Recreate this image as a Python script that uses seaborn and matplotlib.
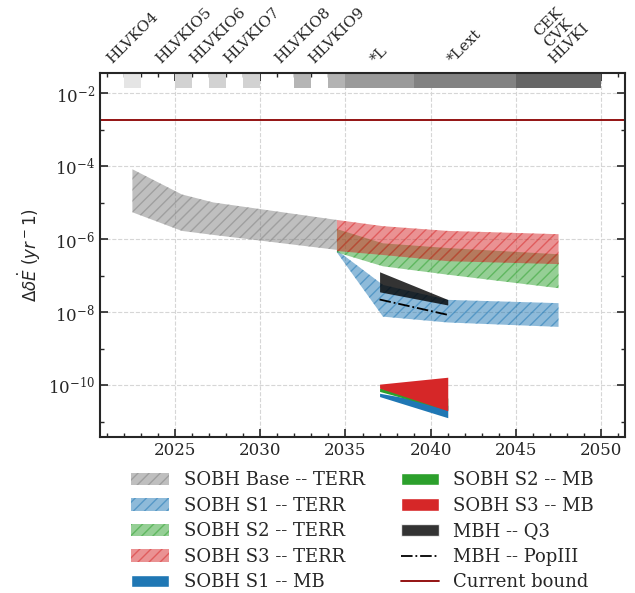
import numpy as np
import matplotlib
matplotlib.use("Agg")
import matplotlib.pyplot as plt
import matplotlib.ticker as mticker
from matplotlib.patches import Patch
from matplotlib.lines import Line2D
import seaborn as sns

sns.set_style("ticks")
plt.rcParams["font.family"] = "serif"
plt.rcParams["font.serif"] = ["DejaVu Serif"]
plt.rcParams["font.size"] = 12
plt.rcParams["hatch.linewidth"] = 1.0

# ---- data (log10 of the rate drift) ----
# detector network runs (top strip)
run_names = ["HLVKO4", "HLVKIO5", "HLVKIO6", "HLVKIO7", "HLVKIO8", "HLVKIO9",
             "*L", "*Lext", "CEK\nCVK\nHLVKI"]
run_start = [2022, 2025, 2027, 2029, 2032, 2034, 2035, 2039, 2045]
run_end = [2023, 2026, 2028, 2030, 2033, 2035, 2039, 2045, 2050]
run_grey = ["#e5e5e5", "#d2d2d2", "#d2d2d2", "#d2d2d2", "#b5b5b5", "#b3b3b3",
            "#9a9a9a", "#828282", "#666666"]

# SOBH baseline, terrestrial
base_years = [2022.5, 2025.4, 2027.25, 2034.5]
base_hi = [-4.08, -4.77, -4.99, -5.47]
base_lo = [-5.26, -5.77, -5.88, -6.29]

# SOBH scenarios, terrestrial
terr_years = [2034.5, 2037.2, 2041.0, 2047.5]
s1_terr_hi = [-6.30, -7.25, -7.66, -7.75]
s1_terr_lo = [-6.36, -8.12, -8.28, -8.40]
s2_terr_hi = [-5.72, -6.11, -6.24, -6.41]
s2_terr_lo = [-6.36, -6.74, -6.97, -7.34]
s3_terr_hi = [-5.47, -5.64, -5.77, -5.86]
s3_terr_lo = [-6.32, -6.43, -6.60, -6.68]

# SOBH scenarios, multiband
mb_years = [2037.0, 2041.0]
s1_mb_hi = [-10.22, -10.55]
s1_mb_lo = [-10.31, -10.89]
s2_mb_hi = [-10.08, -10.35]
s2_mb_lo = [-10.17, -10.68]
s3_mb_hi = [-9.97, -9.78]
s3_mb_lo = [-10.08, -10.70]

# MBH
mbh_years = [2037.0, 2041.0]
q3_hi = [-6.89, -7.65]
q3_lo = [-7.44, -7.80]
popiii = [-7.65, -8.07]

current_bound = -2.74

# ---- figure ----
fig = plt.figure(figsize=(6.35, 5.93), dpi=100)
ax = fig.add_axes([0.1575, 0.2636, 0.8268, 0.6128])
ax.set_yscale("log")


def band(x, lo, hi, color, hatch=None, alpha=0.5, split=True):
    x = np.asarray(x)
    lo = 10 ** np.asarray(lo)
    hi = 10 ** np.asarray(hi)
    if split and len(x) > 2:
        ax.fill_between(x[:2], lo[:2], hi[:2], color=color, alpha=alpha,
                        hatch=hatch, lw=0)
        ax.fill_between(x[1:], lo[1:], hi[1:], color=color, alpha=alpha,
                        hatch=hatch, lw=0)
    else:
        ax.fill_between(x, lo, hi, color=color, alpha=alpha, hatch=hatch, lw=0)


grey = "gray"
c1, c2, c3 = "#1f77b4", "#2ca02c", "#d62728"

band(base_years, base_lo, base_hi, grey, "///", split=False)
band(terr_years, s1_terr_lo, s1_terr_hi, c1, "///")
band(terr_years, s2_terr_lo, s2_terr_hi, c2, "///")
band(terr_years, s3_terr_lo, s3_terr_hi, c3, "///")
band(mb_years, s1_mb_lo, s1_mb_hi, c1, alpha=1)
band(mb_years, s2_mb_lo, s2_mb_hi, c2, alpha=1)
band(mb_years, s3_mb_lo, s3_mb_hi, c3, alpha=1)
band(mbh_years, q3_lo, q3_hi, "k", alpha=0.8)

sns.lineplot(x=mbh_years, y=10 ** np.array(popiii), color="k", lw=1.3,
             linestyle="-.", ax=ax, legend=False)
ax.axhline(10 ** current_bound, color="darkred", lw=1.3)

# run strip at the top
for x0, x1, g, name in zip(run_start, run_end, run_grey, run_names):
    ax.axvspan(x0, x1, ymin=0.96, ymax=1.0, color=g, lw=0)
    ax.text((x0 + x1) / 2, 1.02, name, transform=ax.get_xaxis_transform(),
            rotation=45, ha="center", va="bottom", fontsize=11,
            multialignment="center", linespacing=1.1)

ax.set_xlim(2020.6, 2051.4)
ax.set_ylim(10 ** -11.41, 10 ** -1.45)

ax.xaxis.set_major_locator(mticker.MultipleLocator(5))
ax.xaxis.set_minor_locator(mticker.MultipleLocator(1))
ax.yaxis.set_major_locator(mticker.FixedLocator([10.0 ** k for k in range(-10, -1, 2)]))
ax.yaxis.set_minor_locator(mticker.FixedLocator([10.0 ** k for k in range(-11, -1, 2)]))
ax.yaxis.set_minor_formatter(mticker.NullFormatter())
ax.tick_params(which="both", direction="in", top=True, right=True, labelsize=12)
ax.tick_params(which="major", length=6, width=1.2)
ax.tick_params(which="minor", length=3, width=1.0)
for s in ax.spines.values():
    s.set_linewidth(1.5)
ax.grid(True, which="major", ls="--", color="#d6d6d6", lw=0.8)
ax.set_axisbelow(True)

ax.set_ylabel(r"$\Delta\delta\dot{E}$ $(yr^-1)$", fontsize=12)

handles = [
    Patch(facecolor=grey, edgecolor=grey, alpha=0.5, hatch="///", lw=0, label="SOBH Base -- TERR"),
    Patch(facecolor=c1, edgecolor=c1, alpha=0.5, hatch="///", lw=0, label="SOBH S1 -- TERR"),
    Patch(facecolor=c2, edgecolor=c2, alpha=0.5, hatch="///", lw=0, label="SOBH S2 -- TERR"),
    Patch(facecolor=c3, edgecolor=c3, alpha=0.5, hatch="///", lw=0, label="SOBH S3 -- TERR"),
    Patch(facecolor=c1, label="SOBH S1 -- MB"),
    Patch(facecolor=c2, label="SOBH S2 -- MB"),
    Patch(facecolor=c3, label="SOBH S3 -- MB"),
    Patch(facecolor="k", alpha=0.8, label="MBH -- Q3"),
    Line2D([], [], color="k", ls="-.", lw=1.3, label="MBH -- PopIII"),
    Line2D([], [], color="darkred", lw=1.3, label="Current bound"),
]
ax.legend(handles=handles, ncol=2, frameon=False, fontsize=13,
          labelspacing=0.42, handlelength=2.1, borderaxespad=0,
          loc="upper center", bbox_to_anchor=(0.50, -0.075))

fig.savefig("out.png", dpi=100)
